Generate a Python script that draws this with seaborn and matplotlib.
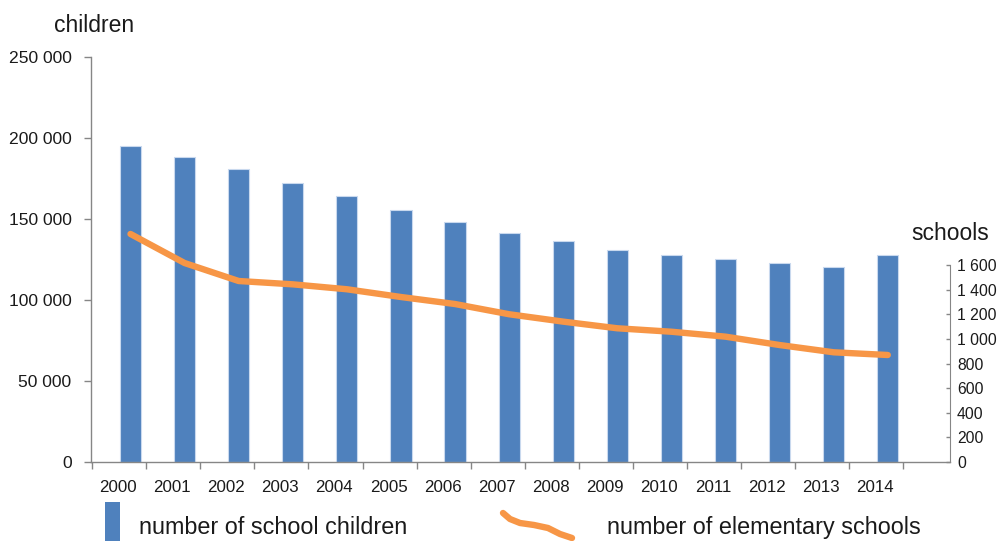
# Gráfico: alunos (barras) e escolas (linha) por ano
import numpy as np
import matplotlib
matplotlib.use("Agg")
import matplotlib.pyplot as plt
from matplotlib.patches import Rectangle
from matplotlib.lines import Line2D
import seaborn as sns

# Dados
years = [str(y) for y in range(2000, 2015)]
children = [195000, 188300, 180700, 172400, 164000, 155600, 148400, 141200,
            136200, 131100, 127600, 125100, 122700, 120600, 127800]
schools = [1852, 1616, 1470, 1443, 1403, 1340, 1283, 1200,
           1140, 1086, 1058, 1018, 950, 891, 869]
left_ticks = [0, 50000, 100000, 150000, 200000, 250000]
right_ticks = [0, 200, 400, 600, 800, 1000, 1200, 1400, 1600]

bar_color = "#4F81BD"
line_color = "#F79646"
axis_color = "#868686"
text_color = "#1a1a1a"

sns.set_style("white")
plt.rcParams["font.family"] = ["Liberation Sans", "DejaVu Sans"]


def fmt(v):
    return f"{v:,}".replace(",", " ")


W, H = 1001, 541
fig = plt.figure(figsize=(W / 100, H / 100), dpi=100)
ax = fig.add_axes([91 / W, 1 - 462 / H, (950 - 91) / W, (462 - 57) / H])

# Barras
sns.barplot(x=years, y=children, color=bar_color, saturation=1, width=0.39,
            edgecolor="#c9d9ee", linewidth=0.8, ax=ax)

ax.set_xlim(-0.73, 15.15)
ax.set_ylim(0, 250000)
ax.set_yticks(left_ticks)
ax.set_yticklabels([fmt(v) for v in left_ticks], fontsize=12.6, color=text_color)
ax.tick_params(axis="y", direction="out", length=5, width=1, color=axis_color, pad=9, left=True)

pos = np.arange(len(years))
ax.set_xticks(pos - 0.23)
ax.set_xticklabels(years, fontsize=12.2, color=text_color)
ax.set_xticks(np.arange(len(years) + 1) - 0.71, minor=True)
ax.tick_params(axis="x", which="major", length=0, pad=13)
ax.tick_params(axis="x", which="minor", direction="out", length=5, width=1,
               color=axis_color, bottom=True)
ax.set_xlabel("")
ax.set_ylabel("")
for s in ["top", "right"]:
    ax.spines[s].set_visible(False)
for s in ["left", "bottom"]:
    ax.spines[s].set_color(axis_color)
    ax.spines[s].set_linewidth(1)

# Linha no eixo secundário
ax2 = ax.twinx()
sns.lineplot(x=pos, y=schools, color=line_color, linewidth=4.6, ax=ax2,
             solid_capstyle="round", solid_joinstyle="round")
ax2.set_ylim(0, 1600 * 405 / 197)
ax2.set_yticks(right_ticks)
ax2.set_yticklabels([fmt(v) for v in right_ticks], fontsize=11.3, color=text_color)
ax2.tick_params(axis="y", direction="in", length=3, width=1, color=axis_color, pad=5, right=True)
ax2.set_ylabel("")
for s in ["top", "left", "bottom"]:
    ax2.spines[s].set_visible(False)
ax2.spines["right"].set_color(axis_color)
ax2.spines["right"].set_bounds(0, 1600)
ax2.set_xlim(ax.get_xlim())

# Títulos dos eixos
fig.text(54 / W, 1 - 32 / H, "children", fontsize=16.5, color=text_color, va="baseline")
fig.text(911 / W, 1 - 240 / H, "schools", fontsize=16.5, color=text_color, va="baseline")

# Legenda manual
fig.add_artist(Rectangle((105 / W, 0), 15 / W, (541 - 502) / H, transform=fig.transFigure,
                         facecolor=bar_color, edgecolor="none"))
fig.text(139 / W, 1 - 534 / H, "number of school children", fontsize=16.8,
         color=text_color, va="baseline")
sx = np.array([503, 510, 520, 534, 548, 560, 572]) / W
sy = 1 - np.array([513, 519, 523, 525, 528, 534, 538]) / H
fig.add_artist(Line2D(sx, sy, transform=fig.transFigure, color=line_color,
                      linewidth=4.6, solid_capstyle="round"))
fig.text(607 / W, 1 - 534 / H, "number of elementary schools", fontsize=16.8,
         color=text_color, va="baseline")

fig.savefig("out.png", dpi=100)
